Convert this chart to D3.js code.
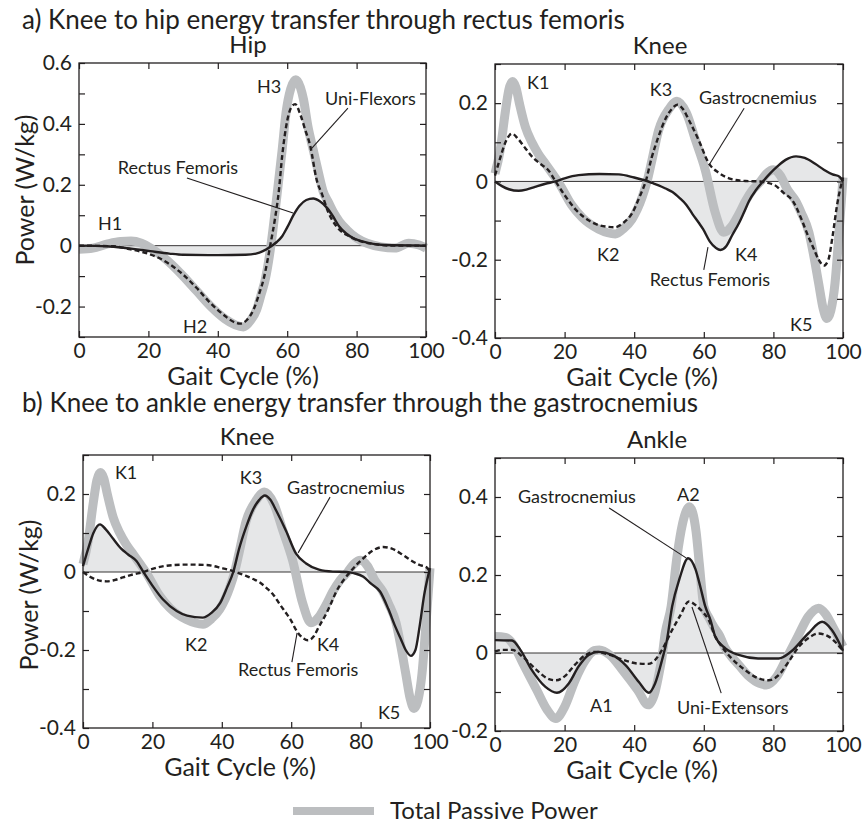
<!DOCTYPE html>
<html>
<head>
<meta charset="utf-8">
<script src="https://cdn.jsdelivr.net/npm/d3@7"></script>
<style>
  body { margin: 0; background: #fff; }
  svg text { font-family: Lato, "Open Sans", sans-serif; fill: #231f20; }
</style>
</head>
<body>
<div id="chart"></div>
<script>
// Power curves, [gait cycle %, W/kg]
const hipTotal = [[0,-0.012],[4,-0.008],[8,0.005],[12,0.014],[15,0.015],[18,0.008],[21,-0.01],[24,-0.035],[27,-0.065],[30,-0.1],[34,-0.15],[38,-0.2],[42,-0.24],[45,-0.26],[47.4,-0.267],[49.5,-0.245],[51.2,-0.21],[52.5,-0.16],[53.7,-0.11],[55.3,0],[56.9,0.15],[58.5,0.31],[59.7,0.44],[61,0.515],[62.5,0.545],[63.8,0.52],[64.7,0.48],[66,0.39],[67.6,0.31],[69,0.24],[70.3,0.18],[72,0.14],[73.4,0.108],[75,0.08],[77.2,0.052],[80,0.025],[83,0.008],[87,-0.004],[91,-0.008],[95,0.008],[98,0.002],[100,-0.008]];
const hipUniFlexors = [[0,0],[10,-0.002],[14,-0.01],[18,-0.02],[22,-0.035],[26,-0.06],[30,-0.095],[34,-0.14],[38,-0.19],[42,-0.23],[44.5,-0.25],[46.4,-0.256],[48.3,-0.245],[50.3,-0.21],[52,-0.155],[53.2,-0.11],[55.1,0],[56.5,0.09],[57.5,0.17],[58.6,0.3],[60,0.41],[61.2,0.455],[62.3,0.465],[63.8,0.43],[65.2,0.38],[66.6,0.33],[68.5,0.216],[70,0.17],[71.9,0.108],[74.3,0.062],[78,0.03],[81,0.015],[86,0.004],[90,0],[100,0]];
const hipRectusFemoris = [[0,0],[8,-0.002],[13.7,-0.008],[20.5,-0.018],[26,-0.026],[30,-0.03],[40,-0.031],[48,-0.03],[51,-0.026],[53,-0.018],[55.6,0],[57,0.012],[58.5,0.03],[60,0.06],[61.8,0.1],[63.5,0.13],[65.5,0.15],[67.5,0.155],[69.5,0.145],[71.4,0.125],[73,0.1],[75,0.063],[77,0.04],[79,0.025],[83,0.01],[88,0.002],[100,0]];

const kneeTotal = [[0,0.02],[1.5,0.08],[3,0.18],[4,0.235],[5,0.255],[6,0.24],[7,0.2],[8.7,0.14],[10.6,0.1],[12.5,0.07],[14.5,0.045],[16.5,0.02],[18.3,-0.003],[22,-0.06],[25,-0.092],[29.8,-0.122],[34.6,-0.134],[37,-0.12],[39.4,-0.096],[42.3,-0.04],[43.7,0],[45,0.05],[47,0.13],[50,0.185],[52.3,0.205],[55,0.175],[57.6,0.106],[60.4,0.03],[63.3,-0.08],[65.7,-0.13],[68,-0.115],[70,-0.085],[72,-0.05],[74,-0.022],[76.3,0],[78,0.02],[80,0.03],[82,0.015],[84,-0.02],[86.4,-0.05],[88,-0.08],[90.2,-0.13],[91.6,-0.19],[93,-0.26],[94.3,-0.325],[95.4,-0.35],[96.5,-0.33],[97.7,-0.26],[98.7,-0.15],[99.6,-0.04],[100,0.01]];
const kneeGastrocnemius = [[0,0.015],[1.5,0.06],[3,0.1],[4.9,0.122],[6.5,0.11],[8.7,0.085],[11,0.06],[13,0.045],[15.4,0.028],[17.4,0],[20,-0.035],[23,-0.07],[27,-0.1],[30,-0.112],[34.5,-0.117],[37,-0.105],[39.5,-0.08],[41.5,-0.04],[43.3,0],[45,0.06],[47,0.115],[49,0.16],[50.8,0.185],[52.4,0.196],[54,0.185],[55.7,0.157],[58.5,0.106],[61.4,0.047],[64.3,0.022],[68,0.006],[72,0.001],[76,0],[78,-0.003],[80.8,-0.012],[83,-0.03],[85.6,-0.05],[88,-0.095],[90,-0.14],[91.5,-0.17],[93,-0.2],[94.5,-0.215],[95.8,-0.2],[97,-0.14],[98.3,-0.06],[100,0.01]];
const kneeRectusFemoris = [[0,0],[2,-0.012],[4,-0.02],[6.8,-0.024],[9,-0.021],[11.5,-0.014],[14.5,-0.006],[17.4,0],[20,0.008],[24,0.016],[30,0.019],[35.6,0.018],[40,0.01],[43,0.003],[45.2,-0.004],[47,-0.01],[49,-0.018],[51,-0.027],[53,-0.042],[55,-0.06],[56.8,-0.084],[58.5,-0.105],[59.8,-0.122],[61.7,-0.153],[63.5,-0.17],[64.8,-0.175],[66.5,-0.165],[68,-0.14],[70.2,-0.105],[71.5,-0.08],[73,-0.05],[75,-0.022],[77,0],[79,0.02],[81,0.037],[83.5,0.055],[86.5,0.064],[89,0.06],[92,0.045],[94.5,0.03],[97,0.018],[99,0.012],[100,0]];

const ankleTotal = [[0,0.042],[3,0.04],[5,0.025],[8,-0.026],[12,-0.095],[15,-0.146],[17.5,-0.168],[20,-0.138],[23,-0.07],[26,-0.018],[28.5,0.006],[30,0.008],[33,-0.005],[37,-0.048],[41,-0.095],[44,-0.133],[46,-0.1],[47.2,-0.05],[48,-0.01],[48.9,0.05],[50.6,0.119],[52.3,0.247],[53.9,0.332],[55,0.365],[55.8,0.375],[56.8,0.36],[57.8,0.31],[58.7,0.23],[60,0.12],[61.5,0.09],[63,0.065],[64.5,0.045],[66,0.015],[68,-0.01],[70,-0.03],[73,-0.06],[76,-0.078],[78,-0.082],[81,-0.06],[84,-0.01],[87,0.042],[90,0.093],[93,0.115],[95,0.1],[97,0.068],[100,0.016]];
const ankleGastrocnemius = [[0,0.033],[4.9,0.032],[7.3,0.008],[10.6,-0.044],[14.5,-0.087],[17.8,-0.102],[21.2,-0.078],[24,-0.035],[26.9,-0.005],[29.8,0.003],[33.6,-0.005],[37.5,-0.031],[41.3,-0.074],[44.2,-0.102],[46,-0.078],[48,-0.018],[49.4,0.033],[50.9,0.119],[53,0.19],[55.5,0.243],[57.6,0.215],[59,0.17],[60.4,0.12],[61.9,0.085],[63.3,0.042],[66.2,0.012],[70,-0.005],[75.6,-0.014],[81.5,-0.014],[85,0.003],[90,0.05],[94,0.08],[96.8,0.059],[100,0.006]];
const ankleUniExtensors = [[0,0.004],[2,0.008],[5,0.008],[8,-0.01],[12,-0.044],[15,-0.065],[17.5,-0.07],[20,-0.06],[23,-0.03],[26,-0.005],[29,0.003],[33,-0.005],[37,-0.018],[41,-0.027],[44,-0.028],[46,-0.018],[48,0.008],[50.9,0.059],[53.3,0.097],[55.7,0.132],[58,0.12],[59.7,0.105],[61.4,0.085],[63.3,0.042],[65.2,0.016],[68,-0.014],[71.9,-0.044],[75.7,-0.065],[78.6,-0.07],[81.5,-0.057],[84.4,-0.022],[87.3,0.016],[90,0.038],[93,0.05],[95.9,0.042],[100,0.006]];

// ticks
const xTicks = [0, 20, 40, 60, 80, 100];
const hipYLabels = [-0.2, 0, 0.2, 0.4, 0.6];
const kneeYLabels = [-0.4, -0.2, 0, 0.2];
const ankleYLabels = [-0.2, 0, 0.2, 0.4];

// text annotations, in data units
const hipNotes = [
  {text: "H1", x: 5.5, y: 0.052}, {text: "H2", x: 30, y: -0.287}, {text: "H3", x: 51.3, y: 0.502},
  {text: "Uni-Flexors", x: 70.9, y: 0.462}, {text: "Rectus Femoris", x: 11.2, y: 0.236}
];
const hipLeaders = [[[77.5, 0.452], [66.6, 0.314]], [[31.1, 0.222], [61.7, 0.107]]];
const kneeTopNotes = [
  {text: "K1", x: 9.2, y: 0.236}, {text: "K3", x: 44.5, y: 0.218}, {text: "Gastrocnemius", x: 58.6, y: 0.198},
  {text: "K2", x: 29.3, y: -0.203}, {text: "K4", x: 69, y: -0.203}, {text: "Rectus Femoris", x: 44.5, y: -0.267},
  {text: "K5", x: 84.8, y: -0.382}
];
const kneeTopLeaders = [[[71.6, 0.187], [61.5, 0.042]], [[60, -0.226], [61.2, -0.168]]];
const kneeBottomNotes = [
  {text: "K1", x: 9.2, y: 0.238}, {text: "K3", x: 45.2, y: 0.226}, {text: "Gastrocnemius", x: 58.8, y: 0.2},
  {text: "K2", x: 29.4, y: -0.203}, {text: "K4", x: 67.4, y: -0.203}, {text: "Rectus Femoris", x: 44.7, y: -0.267},
  {text: "K5", x: 85, y: -0.377}
];
const kneeBottomLeaders = [[[71.2, 0.192], [62, 0.049]], [[60.2, -0.231], [61.7, -0.156]]];
const ankleNotes = [
  {text: "A2", x: 52.3, y: 0.39}, {text: "Gastrocnemius", x: 6.6, y: 0.385},
  {text: "A1", x: 27.3, y: -0.151}, {text: "Uni-Extensors", x: 52.3, y: -0.156}
];
const ankleLeaders = [[[32.8, 0.372], [54.9, 0.244]], [[65, -0.103], [56.6, 0.118]]];

const ink = "#231f20";
const gray = "#bcbec0";
const shade = "#e6e7e8";

const svg = d3.select("#chart").append("svg")
    .attr("width", 864)
    .attr("height", 826);

// Section headings
svg.append("text").attr("x", 22).attr("y", 29).attr("font-size", 26)
    .text("a) Knee to hip energy transfer through rectus femoris");
svg.append("text").attr("x", 22).attr("y", 412).attr("font-size", 26)
    .text("b) Knee to ankle energy transfer through the gastrocnemius");

const panels = [
  {box: [79, 63, 426, 337], yDomain: [-0.3, 0.6], yLabels: hipYLabels, total: hipTotal, dashed: hipUniFlexors,
   solid: hipRectusFemoris, title: "Hip", titleX: 248, xLabelX: 243, yLabel: [34, 190], notes: hipNotes, leaders: hipLeaders},
  {box: [495, 64, 843, 338], yDomain: [-0.4, 0.3], yLabels: kneeYLabels, total: kneeTotal, dashed: kneeGastrocnemius,
   solid: kneeRectusFemoris, title: "Knee", titleX: 660, xLabelX: 642, yLabel: null, notes: kneeTopNotes, leaders: kneeTopLeaders},
  {box: [83, 455, 430, 728], yDomain: [-0.4, 0.3], yLabels: kneeYLabels, total: kneeTotal, dashed: kneeRectusFemoris,
   solid: kneeGastrocnemius, title: "Knee", titleX: 247, xLabelX: 240, yLabel: [38, 595], notes: kneeBottomNotes, leaders: kneeBottomLeaders},
  {box: [495, 458, 843, 731], yDomain: [-0.2, 0.5], yLabels: ankleYLabels, total: ankleTotal, dashed: ankleUniExtensors,
   solid: ankleGastrocnemius, title: "Ankle", titleX: 657, xLabelX: 642, yLabel: null, notes: ankleNotes, leaders: ankleLeaders}
];

const fmt = v => String(Math.round(v * 10) / 10);

panels.forEach(p => {
  const [l, t, r, b] = p.box;
  const x = d3.scaleLinear().domain([0, 100]).range([l, r]);
  const y = d3.scaleLinear().domain(p.yDomain).range([b, t]);
  const g = svg.append("g");

  const line = d3.line().x(d => x(d[0])).y(d => y(d[1])).curve(d3.curveMonotoneX);
  const area = d3.area().x(d => x(d[0])).y0(y(0)).y1(d => y(d[1])).curve(d3.curveMonotoneX);

  // shaded transfer area between solid curve and zero
  g.append("path").attr("d", area(p.solid)).attr("fill", shade);

  g.append("line")
      .attr("x1", x(0)).attr("x2", x(100))
      .attr("y1", y(0)).attr("y2", y(0))
      .attr("stroke", ink).attr("stroke-width", 0.9);

  g.append("path").attr("d", line(p.total))
      .attr("fill", "none").attr("stroke", gray).attr("stroke-width", 9);
  g.append("path").attr("d", line(p.dashed))
      .attr("fill", "none").attr("stroke", ink).attr("stroke-width", 2.4)
      .attr("stroke-dasharray", "5,3");
  g.append("path").attr("d", line(p.solid))
      .attr("fill", "none").attr("stroke", ink).attr("stroke-width", 2.4);

  // axes, ticks point inward on all sides
  const minor = d3.range(Math.round(p.yDomain[0] * 10), Math.round(p.yDomain[1] * 10) + 1).map(i => i / 10);
  const styleAxis = sel => sel
      .attr("font-family", "Lato, 'Open Sans', sans-serif")
      .attr("font-size", 21)
      .call(a => a.select(".domain").remove())
      .call(a => a.selectAll(".tick line").attr("stroke", ink).attr("stroke-width", 1.2))
      .call(a => a.selectAll(".tick text").attr("fill", ink));

  g.append("g").attr("transform", `translate(0,${b})`)
      .call(d3.axisBottom(x).tickValues(xTicks).tickSizeInner(-6).tickSizeOuter(0).tickPadding(6))
      .call(styleAxis);
  g.append("g").attr("transform", `translate(0,${t})`)
      .call(d3.axisTop(x).tickValues(xTicks).tickSizeInner(-6).tickSizeOuter(0).tickFormat(""))
      .call(styleAxis);
  g.append("g").attr("transform", `translate(${l},0)`)
      .call(d3.axisLeft(y).tickValues(minor).tickSizeInner(-6).tickSizeOuter(0).tickPadding(7)
        .tickFormat(v => p.yLabels.some(u => Math.abs(u - v) < 1e-6) ? fmt(v) : ""))
      .call(styleAxis);
  g.append("g").attr("transform", `translate(${r},0)`)
      .call(d3.axisRight(y).tickValues(minor).tickSizeInner(-6).tickSizeOuter(0).tickFormat(""))
      .call(styleAxis);

  g.append("rect")
      .attr("x", l).attr("y", t).attr("width", r - l).attr("height", b - t)
      .attr("fill", "none").attr("stroke", ink).attr("stroke-width", 1.3);

  // titles
  g.append("text").attr("x", p.titleX).attr("y", t - 10)
      .attr("text-anchor", "middle").attr("font-size", 24).text(p.title);
  g.append("text").attr("x", p.xLabelX).attr("y", b + 48)
      .attr("text-anchor", "middle").attr("font-size", 25).text("Gait Cycle (%)");
  if (p.yLabel) {
    g.append("text")
        .attr("transform", `translate(${p.yLabel[0]},${p.yLabel[1]}) rotate(-90)`)
        .attr("text-anchor", "middle").attr("font-size", 25).text("Power (W/kg)");
  }

  // annotations
  g.selectAll(".lead").data(p.leaders).join("line")
      .attr("x1", d => x(d[0][0])).attr("y1", d => y(d[0][1]))
      .attr("x2", d => x(d[1][0])).attr("y2", d => y(d[1][1]))
      .attr("stroke", ink).attr("stroke-width", 1.1);
  g.selectAll(".note").data(p.notes).join("text")
      .attr("x", d => x(d.x)).attr("y", d => y(d.y))
      .attr("font-size", 18)
      .text(d => d.text);
});

// legend
svg.append("line")
    .attr("x1", 293).attr("x2", 374).attr("y1", 811).attr("y2", 811)
    .attr("stroke", gray).attr("stroke-width", 8);
svg.append("text").attr("x", 390).attr("y", 819).attr("font-size", 24)
    .text("Total Passive Power");
</script>
</body>
</html>
